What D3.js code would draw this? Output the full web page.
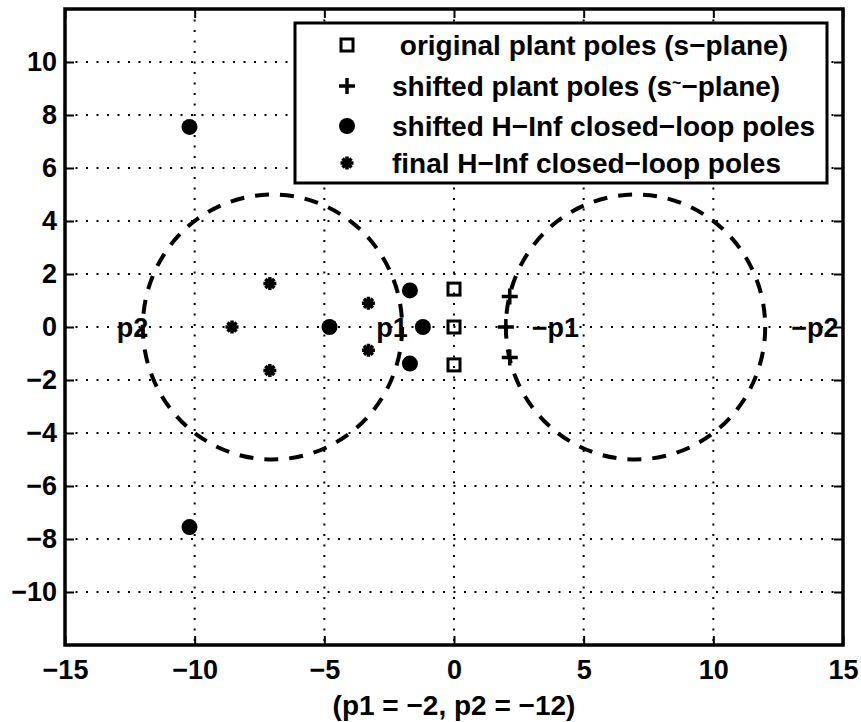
<!DOCTYPE html>
<html>
<head>
<meta charset="utf-8">
<script src="https://cdn.jsdelivr.net/npm/d3@7"></script>
<style>
  body { margin: 0; background: #fff; }
  text { font-family: "Liberation Sans", Arial, sans-serif; font-weight: bold; fill: #000; }
</style>
</head>
<body>
<div id="chart"></div>
<script>
// tick values
const xTicks = [-15, -10, -5, 0, 5, 10, 15];
const yTicks = [-10, -8, -6, -4, -2, 0, 2, 4, 6, 8, 10];

// pole sets [re, im]
const origPoles = [[0, 1.43], [0, 0], [0, -1.43]];
const shiftedPlantPoles = [[2.15, 1.15], [2, 0], [2.15, -1.15]];
const shiftedClPoles = [[-10.2, 7.55], [-10.2, -7.55], [-1.7, 1.38], [-1.7, -1.38], [-1.2, 0], [-4.8, 0]];
const finalClPoles = [[-7.1, 1.64], [-7.1, -1.64], [-3.3, 0.9], [-3.3, -0.88], [-8.56, 0]];

// dashed circles: center on real axis, radius
const circleCenters = [-7, 7];
const circleRadii = [5, 5];

// text labels on real axis
const poleLabelText = ["p2", "p1", "\u2212p1", "\u2212p2"];
const poleLabelX = [-13, -3, 3, 13];

const legendLabels = ["\u00a0original plant poles (s\u2212plane)", "shifted plant poles (s", "shifted H\u2212Inf closed\u2212loop poles", "final H\u2212Inf closed\u2212loop poles"];
const xLabel = "(p1 = \u22122, p2 = \u221212)";

let margin = { top: 9, right: 18, bottom: 77, left: 65 },
    width = 861 - margin.left - margin.right,
    height = 722 - margin.top - margin.bottom;

let svg = d3.select("#chart").append("svg")
    .attr("width", 861)
    .attr("height", 722)
    .append("g")
    .attr("transform", "translate(" + margin.left + "," + margin.top + ")");

let x = d3.scaleLinear().domain([-15, 15]).range([0, width]);
let y = d3.scaleLinear().domain([-12, 12]).range([height, 0]);

// dotted grid
svg.append("g").selectAll("line").data(xTicks.slice(1, -1)).enter().append("line")
    .attr("x1", d => x(d)).attr("x2", d => x(d))
    .attr("y1", 0).attr("y2", height)
    .attr("stroke", "#000").attr("stroke-width", 2)
    .attr("stroke-dasharray", "2,8.5");
svg.append("g").selectAll("line").data(yTicks).enter().append("line")
    .attr("y1", d => y(d)).attr("y2", d => y(d))
    .attr("x1", 0).attr("x2", width)
    .attr("stroke", "#000").attr("stroke-width", 2)
    .attr("stroke-dasharray", "2,8.5");

// axes with inward ticks
let xAxis = svg.append("g").attr("transform", "translate(0," + height + ")")
    .call(d3.axisBottom(x).tickValues(xTicks).tickSizeInner(-9).tickSizeOuter(0).tickPadding(15));
let xAxisTop = svg.append("g")
    .call(d3.axisTop(x).tickValues(xTicks).tickSizeInner(-9).tickSizeOuter(0).tickFormat(""));
let yAxis = svg.append("g")
    .call(d3.axisLeft(y).tickValues(yTicks).tickSizeInner(-9).tickSizeOuter(0).tickPadding(8));
let yAxisRight = svg.append("g").attr("transform", "translate(" + width + ",0)")
    .call(d3.axisRight(y).tickValues(yTicks).tickSizeInner(-9).tickSizeOuter(0).tickFormat(""));

[xAxis, xAxisTop, yAxis, yAxisRight].forEach(a => {
    a.select(".domain").remove();
    a.selectAll(".tick line").attr("stroke", "#000").attr("stroke-width", 2);
    a.selectAll(".tick text").style("font-size", "27px").style("font-family", "Liberation Sans, Arial, sans-serif").style("font-weight", "bold");
});
xAxis.selectAll(".tick text").attr("dy", "0.71em");

// box
svg.append("rect").attr("x", 0).attr("y", 0).attr("width", width).attr("height", height)
    .attr("fill", "none").attr("stroke", "#000").attr("stroke-width", 3.5);

// dashed circles
svg.append("g").selectAll("ellipse").data(circleCenters).enter().append("ellipse")
    .attr("cx", d => x(d)).attr("cy", y(0))
    .attr("rx", (d, i) => x(circleRadii[i]) - x(0))
    .attr("ry", (d, i) => y(0) - y(circleRadii[i]))
    .attr("fill", "none").attr("stroke", "#000").attr("stroke-width", 4)
    .attr("stroke-dasharray", "14,11");

// marker drawers
function drawSquare(g, cx, cy) {
    g.append("rect").attr("x", cx - 6).attr("y", cy - 6).attr("width", 12).attr("height", 12)
        .attr("fill", "none").attr("stroke", "#000").attr("stroke-width", 3);
}
function drawPlus(g, cx, cy) {
    g.append("path").attr("d", "M" + (cx - 8) + "," + cy + "H" + (cx + 8) + "M" + cx + "," + (cy - 8) + "V" + (cy + 8))
        .attr("stroke", "#000").attr("stroke-width", 3.5).attr("fill", "none");
}
function drawDot(g, cx, cy) {
    g.append("circle").attr("cx", cx).attr("cy", cy).attr("r", 8).attr("fill", "#000");
}
function drawStar(g, cx, cy) {
    let s = 6.5, d = 4.5;
    g.append("path").attr("d",
        "M" + (cx - s) + "," + cy + "H" + (cx + s) +
        "M" + cx + "," + (cy - s) + "V" + (cy + s) +
        "M" + (cx - d) + "," + (cy - d) + "L" + (cx + d) + "," + (cy + d) +
        "M" + (cx - d) + "," + (cy + d) + "L" + (cx + d) + "," + (cy - d))
        .attr("stroke", "#000").attr("stroke-width", 3.5).attr("fill", "none");
}

let marks = svg.append("g");
origPoles.forEach(p => drawSquare(marks, x(p[0]), y(p[1])));
shiftedPlantPoles.forEach(p => drawPlus(marks, x(p[0]), y(p[1])));
shiftedClPoles.forEach(p => drawDot(marks, x(p[0]), y(p[1])));
finalClPoles.forEach(p => drawStar(marks, x(p[0]), y(p[1])));

// p labels
svg.append("g").selectAll("text").data(poleLabelText).enter().append("text")
    .attr("x", (d, i) => x(poleLabelX[i]))
    .attr("y", y(0))
    .attr("dy", "0.36em")
    .style("font-size", "27px")
    .text(d => d);

// legend
let lg = svg.append("g").attr("transform", "translate(" + (295 - margin.left) + "," + (23 - margin.top) + ")");
lg.append("rect").attr("x", 0).attr("y", 0).attr("width", 532).attr("height", 160)
    .attr("fill", "#fff").attr("stroke", "#000").attr("stroke-width", 3);
let rowY = [22, 63, 103, 140];
let drawers = [drawSquare, drawPlus, drawDot, drawStar];
legendLabels.forEach((lab, i) => {
    drawers[i](lg, 52, rowY[i]);
    let t = lg.append("text").attr("x", 97).attr("y", rowY[i]).attr("dy", "0.36em")
        .style("font-size", "28px").text(lab);
    if (i == 1) {
        t.append("tspan").attr("dy", "-8").style("font-size", "16px").text("~");
        t.append("tspan").attr("dy", "8").text("\u2212plane)");
    }
});

// x label
svg.append("text").attr("x", x(0)).attr("y", height + 70)
    .attr("text-anchor", "middle").style("font-size", "28px").text(xLabel);
</script>
</body>
</html>
